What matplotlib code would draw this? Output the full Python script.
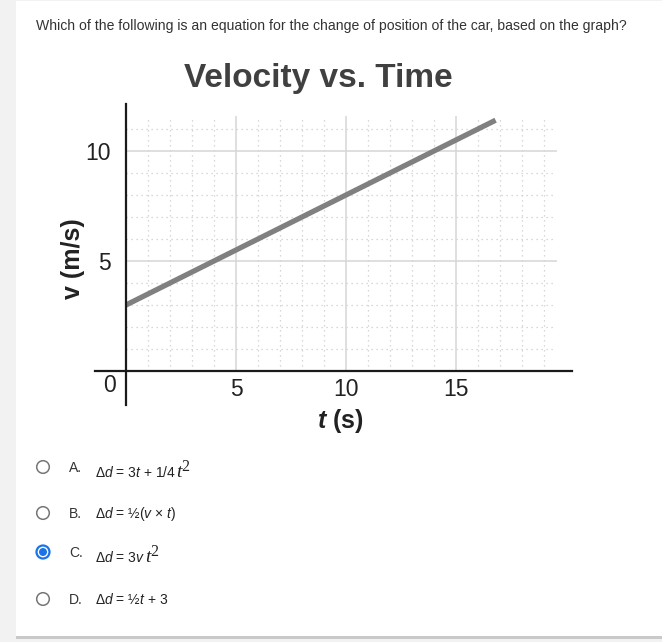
import matplotlib
matplotlib.use("Agg")
from matplotlib import pyplot as plt
from matplotlib.patches import Rectangle, Circle

plt.rcParams['font.family'] = ['Liberation Sans', 'DejaVu Sans']
plt.rcParams['mathtext.fontset'] = 'custom'
plt.rcParams['mathtext.rm'] = 'Liberation Sans'
plt.rcParams['mathtext.it'] = 'Liberation Sans:italic'
plt.rcParams['mathtext.bf'] = 'Liberation Sans:bold'
plt.rcParams['mathtext.bfit'] = 'Liberation Sans:italic:bold'

# data
time_s = [0, 16.8]
velocity = [3, 11.4]
x_major = [5, 10, 15]
y_major = [5, 10]
x_minor = [i for i in range(1, 20) if i % 5]
y_minor = [i for i in range(1, 12) if i % 5]

question = "Which of the following is an equation for the change of position of the car, based on the graph?"
letters = ["A.", "B.", "C.", "D."]
answers = [r"Δ$d$ = 3$t$ + 1/4",
           r"Δ$d$ = ½($v$ × $t$)",
           r"Δ$d$ = 3$v$",
           r"Δ$d$ = ½$t$ + 3"]
t_squared_tail = [True, False, True, False]
selected = 2

W, H, DPI = 662, 642, 100
def ix(px):
  return px / DPI
def iy(py):
  return (H - py) / DPI

fig = plt.figure(figsize=(W / DPI, H / DPI), dpi=DPI)
fig.patch.set_facecolor("#f2f2f2")
inch = fig.dpi_scale_trans
renderer = fig.canvas.get_renderer()

# card with a bit of shadow
fig.add_artist(Rectangle((ix(16), iy(639)), ix(W), (639 - 2) / DPI, transform=inch,
                         facecolor="#c9c9c9", edgecolor="none", zorder=0))
fig.add_artist(Rectangle((ix(16), iy(636)), ix(W), (636 - 1) / DPI, transform=inch,
                         facecolor="white", edgecolor="none", zorder=0))

fig.text(ix(36), iy(26), question, transform=inch, fontsize=10.05, color="#333333",
         ha="left", va="center")

# the graph, 22 px per unit
ax = fig.add_axes([95 / W, (H - 405) / H, 477 / W, 301 / H])
ax.patch.set_alpha(0)
ax.set_xlim(-31 / 22, 446 / 22)
ax.set_ylim(-34 / 22, 267 / 22)
for side in ["top", "right"]:
  ax.spines[side].set_visible(False)
for side in ["left", "bottom"]:
  ax.spines[side].set_position(("data", 0))
  ax.spines[side].set_linewidth(1.6)
  ax.spines[side].set_color("#1a1a1a")

ax.vlines(x_minor, 0, 11.6, colors="#cccccc", linestyles=(0, (1, 3)), linewidth=0.9, zorder=1)
ax.hlines(y_minor, 0, 19.5, colors="#cccccc", linestyles=(0, (1, 3)), linewidth=0.9, zorder=1)
ax.vlines(x_major, 0, 11.6, colors="#d6d6d6", linewidth=1.1, zorder=1)
ax.hlines(y_major, 0, 19.6, colors="#d6d6d6", linewidth=1.1, zorder=1)

ax.plot(time_s, velocity, color="#808080", linewidth=3.8, solid_capstyle="butt", zorder=2)

ax.set_xticks(x_major)
ax.set_yticks(y_major)
ax.tick_params(axis="both", length=0, labelsize=16.5, colors="#222222")
ax.tick_params(axis="x", pad=5)
ax.tick_params(axis="y", pad=11)
ax.text(-17 / 22, -15 / 22, "0", fontsize=16.5, color="#222222", ha="center", va="center")

fig.text(ix(73), iy(259), "v (m/s)", transform=inch, fontsize=18, fontweight="bold",
         color="#222222", rotation=90, ha="center", va="center")
fig.text(ix(340), iy(421), r"$\mathbfit{t}$ (s)", transform=inch, fontsize=18,
         fontweight="bold", color="#222222", ha="center", va="center")
fig.text(ix(318), iy(78), "Velocity vs. Time", transform=inch, fontsize=24,
         fontweight="bold", color="#404040", ha="center", va="center")

# answer choices
radio_y = [467, 513, 552, 599]
letter_base = [472, 518, 557, 604]
answer_base = [477, 518, 562, 604]
for i, (letter, ans) in enumerate(zip(letters, answers)):
  y = radio_y[i]
  if i == selected:
    fig.add_artist(Circle((ix(43), iy(y)), 6.5 / DPI, transform=inch, facecolor="white",
                          edgecolor="#1a73e8", linewidth=1.6))
    fig.add_artist(Circle((ix(43), iy(y)), 4 / DPI, transform=inch, facecolor="#1a73e8",
                          edgecolor="none"))
  else:
    fig.add_artist(Circle((ix(43), iy(y)), 6.3 / DPI, transform=inch, facecolor="white",
                          edgecolor="#767676", linewidth=1.1))
  fig.text(ix(69), iy(letter_base[i]), letter, transform=inch, fontsize=10, color="#333333",
           ha="left", va="baseline")
  txt = fig.text(ix(95), iy(answer_base[i]), ans, transform=inch, fontsize=10,
                 color="#222222", ha="left", va="baseline")
  if t_squared_tail[i]:
    # the big serif t^2 at the end
    x1 = txt.get_window_extent(renderer).x1
    tt = fig.text(x1 / DPI, iy(answer_base[i]), "t", transform=inch, fontsize=14,
                  family="Liberation Serif", style="italic", color="#222222",
                  ha="left", va="baseline")
    x2 = tt.get_window_extent(renderer).x1
    fig.text(x2 / DPI, iy(answer_base[i] - 6), "2", transform=inch, fontsize=11.5,
             family="Liberation Serif", color="#222222", ha="left", va="baseline")

plt.savefig("out.png", dpi=DPI, facecolor=fig.get_facecolor())
